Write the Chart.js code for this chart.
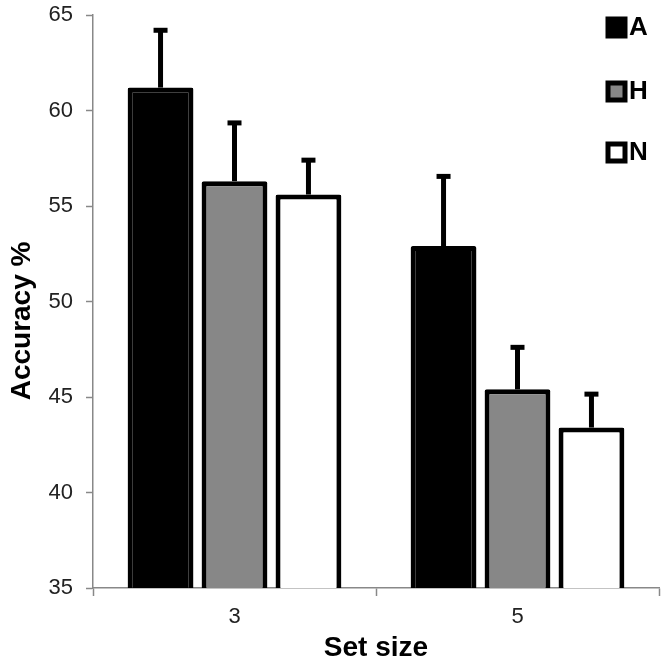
<!DOCTYPE html>
<html>
<head>
<meta charset="utf-8">
<script src="https://cdn.jsdelivr.net/npm/chart.js@4.4.0/dist/chart.umd.min.js"></script>
<style>
html, body { margin: 0; padding: 0; background: #fff; }
#wrap { width: 667px; height: 665px; }
</style>
</head>
<body>
<div id="wrap"><canvas id="chart"></canvas></div>
<script>
// data
const setSizes = ["3", "5"];
const accA = [61.2, 52.9];
const accH = [56.3, 45.4];
const accN = [55.6, 43.4];
// upper error bar lengths
const errA = [3.0, 3.65];
const errH = [3.05, 2.2];
const errN = [1.8, 1.75];
const yTicks = [35, 40, 45, 50, 55, 60, 65];

const FONT = "'Liberation Sans', Arial, sans-serif";

// whiskers on top of each bar
const errorBars = {
  id: 'errorBars',
  afterDatasetsDraw(chart) {
    const ctx = chart.ctx;
    const y = chart.scales.y;
    chart.data.datasets.forEach((ds, i) => {
      chart.getDatasetMeta(i).data.forEach((bar, j) => {
        const top = y.getPixelForValue(ds.data[j] + ds.errors[j]);
        ctx.save();
        ctx.strokeStyle = '#000';
        ctx.lineWidth = 5;
        ctx.beginPath();
        ctx.moveTo(bar.x, bar.y);
        ctx.lineTo(bar.x, top);
        ctx.stroke();
        ctx.beginPath();
        ctx.moveTo(bar.x - 7, top);
        ctx.lineTo(bar.x + 7, top);
        ctx.stroke();
        ctx.restore();
      });
    });
  }
};

// stacked legend in the top right corner
const cornerLegend = {
  id: 'cornerLegend',
  afterDraw(chart) {
    const ctx = chart.ctx;
    const ys = [27, 91, 152];
    chart.data.datasets.forEach((ds, i) => {
      ctx.save();
      ctx.fillStyle = ds.backgroundColor;
      ctx.strokeStyle = '#000';
      ctx.lineWidth = 5;
      ctx.fillRect(608, ys[i] - 8, 17, 17);
      ctx.strokeRect(608, ys[i] - 8, 17, 17);
      ctx.fillStyle = '#000';
      ctx.font = 'bold 26px ' + FONT;
      ctx.textBaseline = 'middle';
      ctx.fillText(ds.label, 629, ys[i] + 1);
      ctx.restore();
    });
  }
};

new Chart(document.getElementById('chart'), {
  type: 'bar',
  data: {
    labels: setSizes,
    datasets: [
      { label: 'A', data: accA, errors: errA, backgroundColor: '#000000' },
      { label: 'H', data: accH, errors: errH, backgroundColor: '#878787' },
      { label: 'N', data: accN, errors: errN, backgroundColor: '#ffffff' }
    ]
  },
  options: {
    responsive: true,
    maintainAspectRatio: false,
    animation: false,
    layout: { padding: { top: 15, right: 8, left: 0, bottom: 0 } },
    datasets: {
      bar: {
        borderColor: '#000',
        borderWidth: 5,
        borderSkipped: false,
        borderRadius: 2,
        categoryPercentage: 0.784,
        barPercentage: 0.89
      }
    },
    plugins: {
      legend: { display: false },
      tooltip: { enabled: false }
    },
    scales: {
      x: {
        grid: { offset: true, drawOnChartArea: false, tickLength: 8, tickColor: '#888', tickWidth: 1.5 },
        border: { color: '#888', width: 1.5 },
        ticks: { font: { family: FONT, size: 22 }, color: '#222', padding: 8 },
        title: { display: true, text: 'Set size', color: '#000', font: { family: FONT, size: 28, weight: 'bold' }, padding: { top: 0, bottom: 0 } },
        afterFit(scale) { scale.height = 77; }
      },
      y: {
        min: 35,
        max: 65,
        afterBuildTicks(scale) { scale.ticks = yTicks.map(v => ({ value: v })); },
        grid: { drawOnChartArea: false, tickLength: 7, tickColor: '#888', tickWidth: 1.5 },
        border: { color: '#888', width: 1.5 },
        ticks: { font: { family: FONT, size: 22 }, color: '#222', padding: 13 },
        // trailing spaces nudge the rotated title down like the original
        title: { display: true, text: 'Accuracy %     ', color: '#000', font: { family: FONT, size: 28, weight: 'bold' }, padding: { top: 5, bottom: 0 } },
        afterFit(scale) {
          scale.width = 93;
          scale.paddingTop = 0;
          scale.paddingBottom = 0;
        }
      }
    }
  },
  plugins: [errorBars, cornerLegend]
});
</script>
</body>
</html>
